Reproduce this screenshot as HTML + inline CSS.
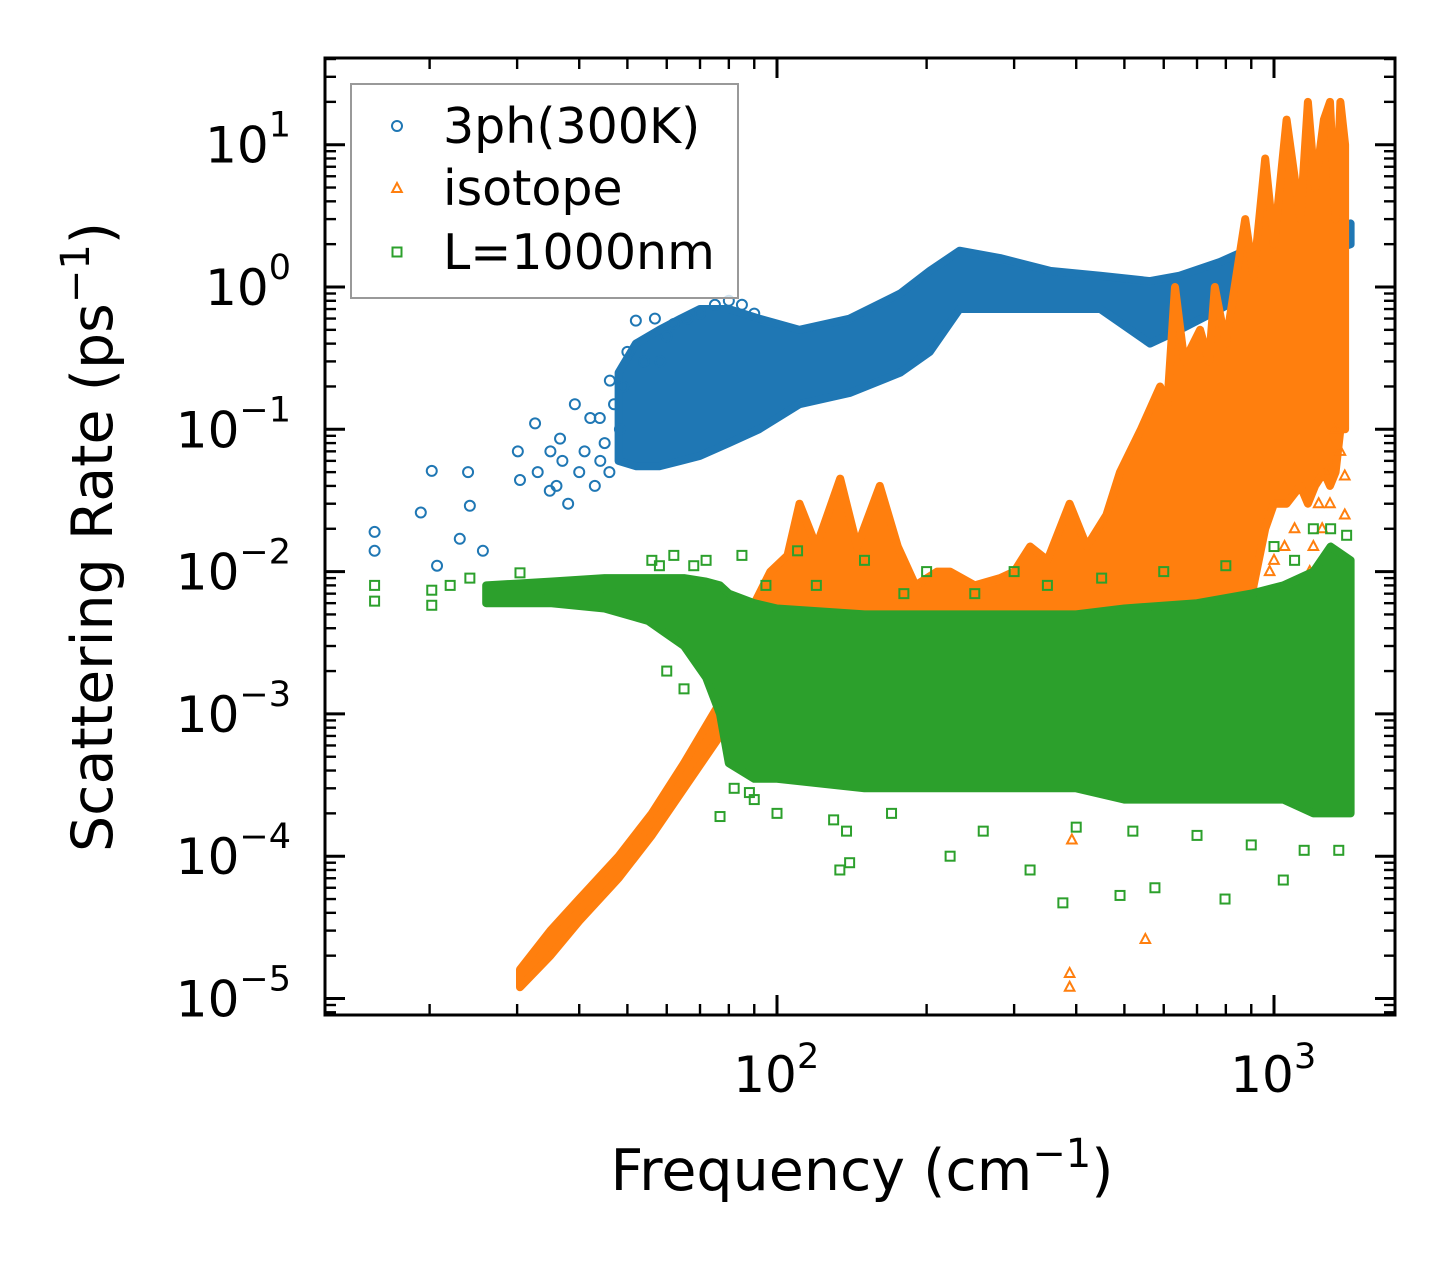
<!DOCTYPE html>
<html><head><meta charset="utf-8">
<style>
html,body{margin:0;padding:0;background:#fff;}
svg{display:block;font-family:"DejaVu Sans","Liberation Sans",sans-serif;}
</style></head>
<body>
<svg id="chart" width="1455" height="1265" viewBox="0 0 1455 1265" xmlns="http://www.w3.org/2000/svg" style="position:absolute;left:0;top:0">
<g id="plot"></g>
<g id="axes"></g>
</svg>
<script>
// ---- data ----
const blueBandFreq = [48,52,58,64,70,80,92,111,140,177,203,233,281,354,447,563,646,779,936,1130,1426];
const blueBandLo   = [0.06,0.055,0.055,0.06,0.065,0.08,0.1,0.15,0.18,0.25,0.35,0.7,0.7,0.7,0.7,0.4,0.5,0.7,1.0,1.5,2.0];
const blueBandHi   = [0.25,0.4,0.5,0.6,0.7,0.7,0.6,0.5,0.6,0.9,1.3,1.8,1.6,1.3,1.2,1.1,1.2,1.5,2.0,2.5,2.8];
const blueScatF = [15.5,15.5,19.2,20.2,20.7,23.0,23.9,24.1,25.6,30.1,30.4,32.6,34.9,36.6,39.2,42.1,44.1,46.1,48.3,52.0,56.8,58.2,40,45,36,38,41,43,44,46,47,49,33,35,37,50,54,60,62,66,70,75,80,85,90];
const blueScatV = [0.019,0.014,0.026,0.051,0.011,0.017,0.05,0.029,0.014,0.07,0.044,0.11,0.037,0.086,0.15,0.12,0.06,0.22,0.1,0.58,0.6,0.3,0.05,0.08,0.04,0.03,0.07,0.04,0.12,0.05,0.15,0.2,0.05,0.07,0.06,0.35,0.3,0.45,0.55,0.6,0.65,0.75,0.8,0.75,0.65];

const orangeBandFreq = [30.4,35,40,48,56,65,76.8,85,97,105,111,120,134,145,161,175,190,210,223,250,281,300,323,350,388,420,460,490,540,590,610,632,660,710,740,760,800,875,910,960,1000,1060,1130,1170,1210,1260,1296,1330,1360,1390];
const orangeBandHi   = [1.6e-5,3e-5,5e-5,1e-4,2e-4,4.5e-4,1.2e-3,4e-3,1e-2,1.3e-2,3e-2,1.5e-2,4.5e-2,1.5e-2,4e-2,1.5e-2,8e-3,1e-2,1e-2,8e-3,9e-3,1e-2,1.5e-2,1.2e-2,3e-2,1.5e-2,2.5e-2,5e-2,0.1,0.2,0.15,1.0,0.3,0.5,0.3,1.0,0.4,3,1.2,8,2,15,3,20,5,15,20,3,20,10];
const orangeBandLo   = [1.2e-5,2e-5,3.5e-5,7e-5,1.4e-4,3e-4,7e-4,1.5e-3,3e-3,3e-3,3e-3,3e-3,3e-3,3e-3,3e-3,3e-3,3e-3,3e-3,3e-3,3e-3,3e-3,3e-3,3e-3,3e-3,3e-3,3e-3,3e-3,3e-3,3e-3,3e-3,3e-3,3e-3,3e-3,3e-3,3e-3,3e-3,3e-3,3e-3,8e-3,0.02,0.03,0.03,0.04,0.03,0.04,0.05,0.04,0.05,0.1,0.1];
const orangeScatF = [388,388,551,392,1388,1296,1388,1360,1330,1280,1250,1230,1200,1180,1100,1050,1000,980];
const orangeScatV = [1.5e-5,1.2e-5,2.6e-5,1.3e-4,0.047,0.03,0.025,0.07,0.1,0.05,0.02,0.03,0.015,0.01,0.02,0.015,0.012,0.01];

const greenBandFreq = [26,35,45,55,65,72,76.8,80,90,100,150,200,300,400,500,700,900,1044,1200,1300,1426];
const greenBandLo   = [6e-3,6e-3,5.5e-3,4.5e-3,3e-3,1.8e-3,1e-3,4.5e-4,3.5e-4,3.5e-4,3e-4,3e-4,3e-4,3e-4,2.5e-4,2.5e-4,2.5e-4,2.5e-4,2e-4,2e-4,2e-4];
const greenBandHi   = [8e-3,8.5e-3,9e-3,9e-3,9e-3,8.5e-3,8e-3,7e-3,6e-3,5.5e-3,5e-3,5e-3,5e-3,5e-3,5.5e-3,6e-3,7e-3,8e-3,1e-2,1.5e-2,1.2e-2];
const greenScatF = [15.5,15.5,20.2,20.2,22,24.1,27.7,30.4,34.9,40,44.1,48,76.8,133.8,223,323,376,490,576,797,1044,85,110,150,200,300,1200,1400,60,65,140,138,56,58,62,68,72,95,120,180,250,350,450,600,800,1000,1100,1300,90,100,130,170,260,400,520,700,900,1150,1350,82,88];
const greenScatV = [8e-3,6.2e-3,7.4e-3,5.8e-3,8e-3,9e-3,7e-3,9.8e-3,7.5e-3,7e-3,7.5e-3,8e-3,1.9e-4,8e-5,1e-4,8e-5,4.7e-5,5.3e-5,6e-5,5e-5,6.8e-5,1.3e-2,1.4e-2,1.2e-2,1e-2,1e-2,2e-2,1.8e-2,2e-3,1.5e-3,9e-5,1.5e-4,1.2e-2,1.1e-2,1.3e-2,1.1e-2,1.2e-2,8e-3,8e-3,7e-3,7e-3,8e-3,9e-3,1e-2,1.1e-2,1.5e-2,1.2e-2,2e-2,2.5e-4,2e-4,1.8e-4,2e-4,1.5e-4,1.6e-4,1.5e-4,1.4e-4,1.2e-4,1.1e-4,1.1e-4,3e-4,2.8e-4];

const xTickVals = [100,1000];
const xTickLabels = ["2","3"];
const yTickExps = [1,0,-1,-2,-3,-4,-5];
const yTickLabels = ["1","0","\u22121","\u22122","\u22123","\u22124","\u22125"];

// ---- scales ----
const PL=325, PR=1395, PT=58, PB=1015;
function xs(f){return 777 + (Math.log10(f)-2)*497;}
function ys(v){return 287 - Math.log10(v)*142.3;}
const NS='http://www.w3.org/2000/svg';
const plot=document.getElementById('plot');
const axes=document.getElementById('axes');
function mk(tag,attrs,parent){const e=document.createElementNS(NS,tag);for(const k in attrs)e.setAttribute(k,attrs[k]);parent.appendChild(e);return e;}

const defs=mk('defs',{},plot);
const cp=mk('clipPath',{id:'clip'},defs);
mk('rect',{x:PL,y:PT,width:PR-PL,height:PB-PT},cp);
const inner=mk('g',{'clip-path':'url(#clip)'},plot);

function band(freq,lo,hi,color,name){
  let pts=[];
  for(let i=0;i<freq.length;i++)pts.push(xs(freq[i]).toFixed(1)+','+ys(hi[i]).toFixed(1));
  for(let i=freq.length-1;i>=0;i--)pts.push(xs(freq[i]).toFixed(1)+','+ys(lo[i]).toFixed(1));
  const p=mk('polygon',{points:pts.join(' '),fill:color,stroke:color,'stroke-width':8,'stroke-linejoin':'round'},inner);
  
  
}
function marker(kind,x,y,color,parent){
  let e;
  if(kind==='o') e=mk('circle',{cx:x,cy:y,r:5,fill:'none',stroke:color,'stroke-width':2},parent);
  else if(kind==='^') e=mk('polygon',{points:`${x},${y-5.5} ${x-4.8},${y+3.5} ${x+4.8},${y+3.5}`,fill:'none',stroke:color,'stroke-width':2},parent);
  else e=mk('rect',{x:x-4.5,y:y-4.5,width:9,height:9,fill:'none',stroke:color,'stroke-width':2},parent);
  return e;
}
function scatter(F,V,kind,color,name){
  for(let i=0;i<F.length;i++){
    const m=marker(kind,xs(F[i]),ys(V[i]),color,inner);
    
    
  }
}
const BLUE='#1f77b4',ORANGE='#ff7f0e',GREEN='#2ca02c';
band(blueBandFreq,blueBandLo,blueBandHi,BLUE,'3ph-band');
scatter(blueScatF,blueScatV,'o',BLUE,'3ph-point');
band(orangeBandFreq,orangeBandLo,orangeBandHi,ORANGE,'isotope-band');
scatter(orangeScatF,orangeScatV,'^',ORANGE,'isotope-point');
band(greenBandFreq,greenBandLo,greenBandHi,GREEN,'boundary-band');
scatter(greenScatF,greenScatV,'s',GREEN,'boundary-point');

// ---- axes frame & ticks ----
const frame=mk('rect',{x:PL,y:PT,width:PR-PL,height:PB-PT,fill:'none',stroke:'#000','stroke-width':3},axes);


function tick(x1,y1,x2,y2,w){mk('line',{x1,y1,x2,y2,stroke:'#000','stroke-width':w},axes);}
for(let d=1;d<=3;d++){for(let m=1;m<10;m++){
  const f=m*Math.pow(10,d); const x=xs(f); if(x<PL||x>PR)continue;
  const L=(m===1)?20:11, w=(m===1)?3:2.4;
  tick(x,PB,x,PB-L,w); tick(x,PT,x,PT+L,w);
}}
for(let d=-6;d<=1;d++){for(let m=1;m<10;m++){
  const v=m*Math.pow(10,d); const y=ys(v); if(y<PT||y>PB)continue;
  const L=(m===1)?20:11, w=(m===1)?3:2.4;
  tick(PL,y,PL+L,y,w); tick(PR,y,PR-L,y,w);
}}
for(let i=0;i<xTickVals.length;i++){
  const t=mk('text',{x:xs(xTickVals[i])-12,y:1092,'font-size':50,'text-anchor':'middle',fill:'#000'},axes);
  t.textContent='10';
  
  
  const s=mk('text',{x:xs(xTickVals[i])+20,y:1068,'font-size':35,'text-anchor':'start',fill:'#000'},axes);
  s.textContent=xTickLabels[i];
}
for(let i=0;i<yTickExps.length;i++){
  const y=ys(Math.pow(10,yTickExps[i]));
  const t=mk('text',{x:291,y:y+18,'font-size':50,'text-anchor':'end',fill:'#000'},axes);
  
  
  const a=document.createElementNS(NS,'tspan'); a.textContent='10'; t.appendChild(a);
  const b=document.createElementNS(NS,'tspan'); b.setAttribute('dy','-26'); b.setAttribute('font-size','35'); b.textContent=yTickLabels[i]; t.appendChild(b);
}
</script>
<svg style="position:absolute;left:0;top:0" width="1455" height="1265" xmlns="http://www.w3.org/2000/svg">
<text x="862" y="1190" font-size="57" text-anchor="middle" font-family="DejaVu Sans, Liberation Sans, sans-serif">Frequency (cm<tspan font-size="40" dy="-23">−1</tspan><tspan dy="23">)</tspan></text>
<text transform="translate(112,537) rotate(-90)" font-size="57" text-anchor="middle" font-family="DejaVu Sans, Liberation Sans, sans-serif">Scattering Rate (ps<tspan font-size="40" dy="-23">−1</tspan><tspan dy="23">)</tspan></text>
<g>
<rect x="351" y="84" width="387" height="214" fill="#fff" fill-opacity="0.8" stroke="#999" stroke-width="2"/>
<circle cx="397" cy="126" r="5" fill="none" stroke="#1f77b4" stroke-width="2"/>
<text x="443" y="143" font-size="49" font-family="DejaVu Sans, Liberation Sans, sans-serif">3ph(300K)</text>
<polygon points="397,183 392.2,192 401.8,192" fill="none" stroke="#ff7f0e" stroke-width="2"/>
<text x="443" y="205" font-size="49" font-family="DejaVu Sans, Liberation Sans, sans-serif">isotope</text>
<rect x="392.5" y="247.5" width="9" height="9" fill="none" stroke="#2ca02c" stroke-width="2"/>
<text x="443" y="269" font-size="49" font-family="DejaVu Sans, Liberation Sans, sans-serif">L=1000nm</text>
</g>
</svg>
</body></html>
